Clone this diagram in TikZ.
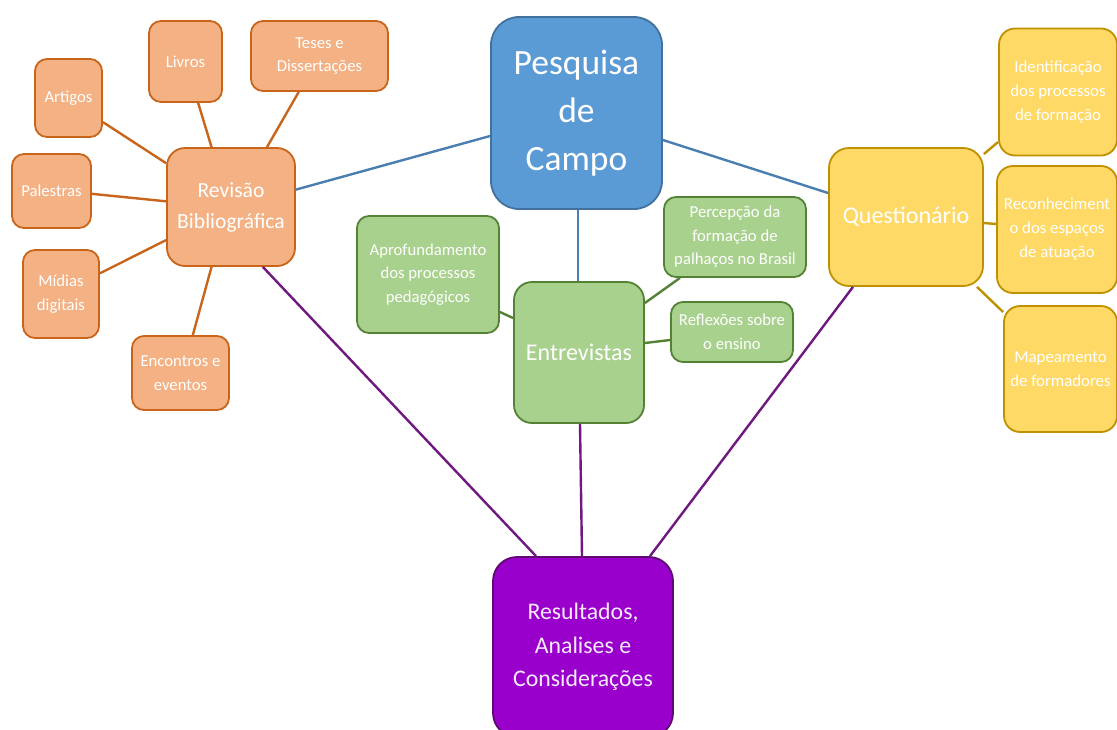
\documentclass[tikz,border=0pt]{standalone}
\usepackage{fontspec}
\setmainfont{Carlito}
\definecolor{orF}{HTML}{F4B183}
\definecolor{orD}{HTML}{C8651B}
\definecolor{blF}{HTML}{5B9BD5}
\definecolor{blD}{HTML}{41719C}
\definecolor{blL}{HTML}{4A7EB0}
\definecolor{grF}{HTML}{A9D18E}
\definecolor{grD}{HTML}{548235}
\definecolor{yeF}{HTML}{FFD966}
\definecolor{yeD}{HTML}{BF9000}
\definecolor{puF}{HTML}{9900CC}
\definecolor{puD}{HTML}{5E0A70}
\definecolor{puL}{HTML}{6E1880}
\tikzset{
  box/.style={rectangle, rounded corners=#1, line width=1.8pt, align=center, inner sep=0pt, text=white},
  box/.default=12pt,
  obox/.style={box=12pt, fill=orF, draw=orD, font=\fontsize{16.7}{23.5}\selectfont},
  gbox/.style={box=12pt, fill=grF, draw=grD, font=\fontsize{16.7}{23.5}\selectfont},
  ybox/.style={box=16pt, fill=yeF, draw=yeD, font=\fontsize{16.8}{24}\selectfont},
  oline/.style={draw=orD, line width=2.4pt},
  bline/.style={draw=blL, line width=2.4pt},
  gline/.style={draw=grD, line width=2.4pt},
  yline/.style={draw=yeD, line width=2.4pt},
  pline/.style={draw=puL, line width=2.4pt},
}
\begin{document}
\begin{tikzpicture}[x=1pt,y=-1pt]
\useasboundingbox (0,0) rectangle (1117,729);
\begin{scope}
\clip (0,0) rectangle (1117,729);
% main nodes
\node[box=28pt, fill=blF, draw=blD, minimum width=171pt, minimum height=192pt,
  font=\fontsize{35.5}{48}\selectfont] (pes) at (576.5,113) {Pesquisa\\de\\Campo};
\node[box=18pt, fill=orF, draw=orD, minimum width=128pt, minimum height=118pt,
  font=\fontsize{21.6}{31}\selectfont] (rev) at (231,207) {Revisão\\Bibliográfica};
\node[box=18pt, fill=grF, draw=grD, minimum width=130pt, minimum height=141pt,
  font=\fontsize{24}{30}\selectfont] (ent) at (579,352.5) {Entrevistas};
\node[box=20pt, fill=yeF, draw=yeD, minimum width=154pt, minimum height=138pt,
  font=\fontsize{24}{30}\selectfont] (que) at (906,217) {Questionário};
\node[box=24pt, fill=puF, draw=puD, minimum width=180pt, minimum height=180pt,
  font=\fontsize{23.8}{33.5}\selectfont, text=white!92!puF] (res) at (583,647) {Resultados,\\Analises e\\Considerações};
% orange leaves
\node[obox, minimum width=67pt, minimum height=78pt] (art) at (68.5,98) {Artigos};
\node[obox, minimum width=73pt, minimum height=81pt] (liv) at (185.5,61.5) {Livros};
\node[obox, minimum width=137pt, minimum height=70pt] (tes) at (319.5,56) {Teses e\\Dissertações};
\node[obox, minimum width=79pt, minimum height=74pt] (pal) at (51.5,191) {Palestras};
\node[obox, minimum width=76pt, minimum height=88pt] (mid) at (61,294) {Mídias\\digitais};
\node[obox, minimum width=97pt, minimum height=74pt] (enc) at (180.5,373) {Encontros e\\eventos};
% green leaves
\node[gbox, minimum width=142pt, minimum height=117pt] (apr) at (428,274.5) {Aprofundamento\\dos processos\\pedagógicos};
\node[gbox, minimum width=142pt, minimum height=80pt] (per) at (735,237) {Percepção da\\formação de\\palhaços no Brasil};
\node[gbox, minimum width=122pt, minimum height=60pt] (ref) at (732,332) {Reflexões sobre\\o ensino};
% yellow leaves
\node[ybox, minimum width=118pt, minimum height=127pt] (ide) at (1058,92) {Identificação\\dos processos\\de formação};
\node[ybox, minimum width=120pt, minimum height=127pt] (rec) at (1057,229.5) {Reconheciment\\o dos espaços\\de atuação};
\node[ybox, minimum width=113pt, minimum height=126pt] (map) at (1060.5,369) {Mapeamento\\de formadores};
% connectors
\draw[oline] (rev.146) -- (art.-35);
\draw[oline] (rev.108) -- (liv.-73);
\draw[oline] (rev.59) -- (tes.240);
\draw[oline] (rev.175) -- (pal.-4);
\draw[oline] (rev.207) -- (mid.28);
\draw[oline] (rev.252) -- (enc.72);
\draw[bline] (rev.15) -- (pes.west |- {(0,136)});
\draw[bline] (pes.east |- {(0,140)}) -- (que.west |- {(0,193)});
\draw[bline] (pes.south -| {(578,0)}) -- (ent.north -| {(578,0)});
\draw[gline] (apr.east |- {(0,312)}) -- (ent.west |- {(0,318)});
\draw[gline] (per.south -| {(680,0)}) -- (ent.east |- {(0,303)});
\draw[gline] (ref.west |- {(0,340)}) -- (ent.east |- {(0,343)});
\draw[yline] (que.east |- {(0,154)}) -- (ide.west |- {(0,142)});
\draw[yline] (que.east |- {(0,223)}) -- (rec.west |- {(0,224)});
\draw[yline] (que.south -| {(977,0)}) -- (map.west |- {(0,312)});
\draw[pline] (rev.-62) -- (res.north -| {(536,0)});
\draw[pline] (ent.south -| {(580,0)}) -- (res.north -| {(582,0)});
\draw[pline] (que.south -| {(853,0)}) -- (res.north -| {(650,0)});
\end{scope}
\end{tikzpicture}
\end{document}
